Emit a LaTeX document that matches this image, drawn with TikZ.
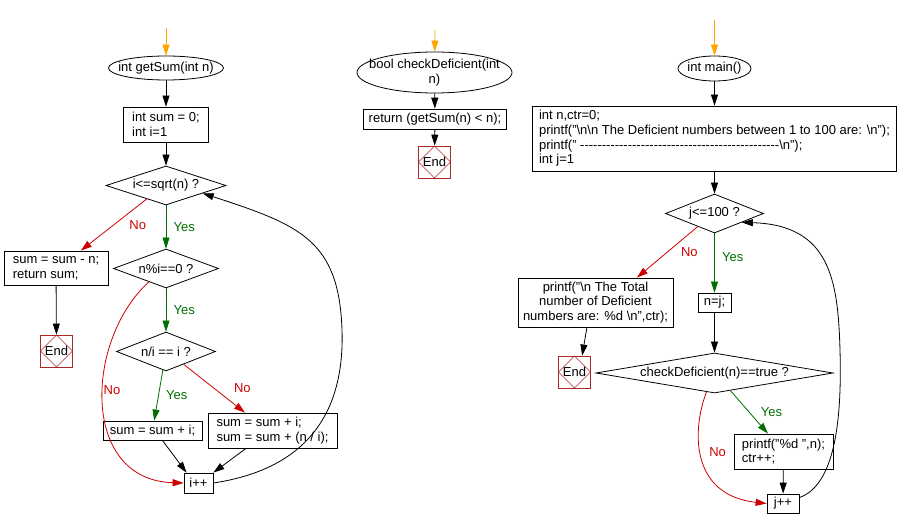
\documentclass[tikz,border=0pt]{standalone}
\usepackage{fontspec}
\setmainfont{Liberation Sans}
\usetikzlibrary{shapes.geometric,arrows.meta}
\definecolor{nored}{RGB}{204,0,0}
\definecolor{yesgreen}{RGB}{0,110,0}
\definecolor{endred}{RGB}{170,40,40}
\definecolor{startorange}{RGB}{255,165,0}

\begin{document}
\begin{tikzpicture}[x=1pt,y=-1pt,>={Triangle[length=11pt,width=7pt]},line width=0.8pt,
  every node/.style={font=\fontsize{13}{14.7}\selectfont},
  box/.style={draw,rectangle,inner xsep=4pt,inner ysep=2pt},
  term/.style={ellipse,draw,inner sep=0pt},
  dec/.style={diamond,draw,inner sep=0pt},
  stop/.style={draw=endred,minimum size=32pt,inner sep=0pt,path picture={\draw[endred,line width=0.6pt] (path picture bounding box.north) -- (path picture bounding box.east) -- (path picture bounding box.south) -- (path picture bounding box.west) -- cycle;}},
  yes/.style={->,draw=yesgreen},
  no/.style={->,draw=nored},
  ylab/.style={text=yesgreen},
  nlab/.style={text=nored}]
\useasboundingbox (0,0) rectangle (898,529);

\coordinate (s1) at (166,28);
\node[term,minimum width=115pt,minimum height=24pt,label=center:int getSum(int n)] (gs) at (166,68) {};
\node[box,align=left,minimum width=85pt,minimum height=35pt] (init) at (166,124.5) {int sum = 0;\\int i=1};
\node[dec,aspect=3.1,minimum width=120pt,minimum height=39pt] (d1) at (166,185.5) {i<=sqrt(n) ?};
\node[box,align=left,minimum width=104pt,minimum height=34pt] (ret) at (56,268) {sum = sum - n;\\return sum;};
\node[stop] (end1) at (56.5,351) {End};
\node[dec,aspect=2.7,minimum width=105pt,minimum height=39pt] (d2) at (166,268.5) {n\%i==0 ?};
\node[dec,aspect=2.5,minimum width=99pt,minimum height=39pt] (d3) at (166,351.5) {n/i == i ?};
\node[box,minimum width=99pt,minimum height=19pt] (add1) at (152.5,430.5) {sum = sum + i;};
\node[box,align=left,minimum width=129pt,minimum height=35pt] (add2) at (272.5,430.5) {sum = sum + i;\\sum = sum + (n / i);};
\node[box,minimum width=29pt,minimum height=20pt] (inc) at (198.5,483) {i++};

\draw[->,draw=startorange] (s1) -- (gs);
\draw[->] (gs) -- (init);
\draw[->] (init) -- (d1);
\draw[no] (d1.215) -- node[nlab,right=12pt]{No} (ret.35);
\draw[yes] (d1) -- node[ylab,right=4pt]{Yes} (d2);
\draw[->] (ret) -- (end1);
\draw[yes] (d2) -- node[ylab,right=4pt]{Yes} (d3);
\draw[yes] (d3) -- node[ylab,right=4pt]{Yes} (add1);
\draw[no] (d3.324) -- node[nlab,right=16pt]{No} (add2.147);
\draw[->] (add1.315) -- (inc.139);
\draw[->] (add2.214) -- (inc.north east);
\draw[no] (d2.218) .. controls (85,340) and (80,480) .. node[nlab,pos=0.45,right=-3pt]{No} (inc.west);
\draw[->] (inc.east) .. controls (300,470) and (345,420) .. (342,330) .. controls (339,240) and (300,225) .. (d1.348);

\coordinate (s2) at (435,30);
\node[term,minimum width=155pt,minimum height=41pt,label={[align=center]center:bool checkDeficient(int\\n)}] (cd) at (434.5,72.5) {};
\node[box,minimum width=143pt,minimum height=20pt] (cret) at (435,119) {return (getSum(n) < n);};
\node[stop] (end2) at (434.5,162) {End};

\draw[->,draw=startorange] (s2) -- (cd);
\draw[->] (cd) -- (cret);
\draw[->] (cret) -- (end2);

\coordinate (s3) at (714.5,20);
\node[term,minimum width=73pt,minimum height=25pt,label=center:int main()] (mn) at (714.5,68.5) {};
\node[box,align=left,minimum width=364pt,minimum height=65pt] (setup) at (714.5,138.5) {int n,ctr=0;\\printf("\textbackslash n\textbackslash n The Deficient numbers between 1 to 100 are: \textbackslash n");\\printf(" \foreach \k in {1,...,46}{-\kern0pt}\textbackslash n");\\int j=1};
\node[dec,aspect=2.5,minimum width=98pt,minimum height=39pt] (dj) at (714.5,213.5) {j<=100 ?};
\node[box,align=center,minimum width=155pt,minimum height=49pt] (total) at (595.5,302.5) {printf("\textbackslash n The Total\\number of Deficient\\numbers are: \%d \textbackslash n",ctr);};
\node[box,minimum width=33pt,minimum height=19pt] (nj) at (714.5,302.5) {n=j;};
\node[dec,aspect=5.9,minimum width=237pt,minimum height=40pt] (dc) at (714.5,373) {checkDeficient(n)==true ?};
\node[stop] (end3) at (574.5,372) {End};
\node[box,align=left,minimum width=99pt,minimum height=35pt] (pr) at (783.5,451.5) {printf("\%d ",n);\\ctr++;};
\node[box,minimum width=32pt,minimum height=19pt] (jinc) at (783,503.5) {j++};

\draw[->,draw=startorange] (s3) -- (mn);
\draw[->] (mn) -- (setup);
\draw[->] (setup) -- (dj);
\draw[no] (dj.218) -- node[nlab,right=10pt]{No} (total.31);
\draw[yes] (dj) -- node[ylab,right=4pt,pos=0.4]{Yes} (nj);
\draw[->] (total.251) -- (end3.65);
\draw[->] (nj) -- (dc);
\draw[yes] (dc.312) -- node[ylab,right=8pt]{Yes} (pr.131);
\draw[->] (pr) -- (jinc);
\draw[no] (dc.247) .. controls (692,430) and (690,495) .. node[nlab,pos=0.45,right=5pt]{No} (jinc.west);
\draw[->] (jinc.20) .. controls (835,485) and (842,420) .. (840,350) .. controls (838,280) and (830,225) .. (dj.342);
\end{tikzpicture}
\end{document}
